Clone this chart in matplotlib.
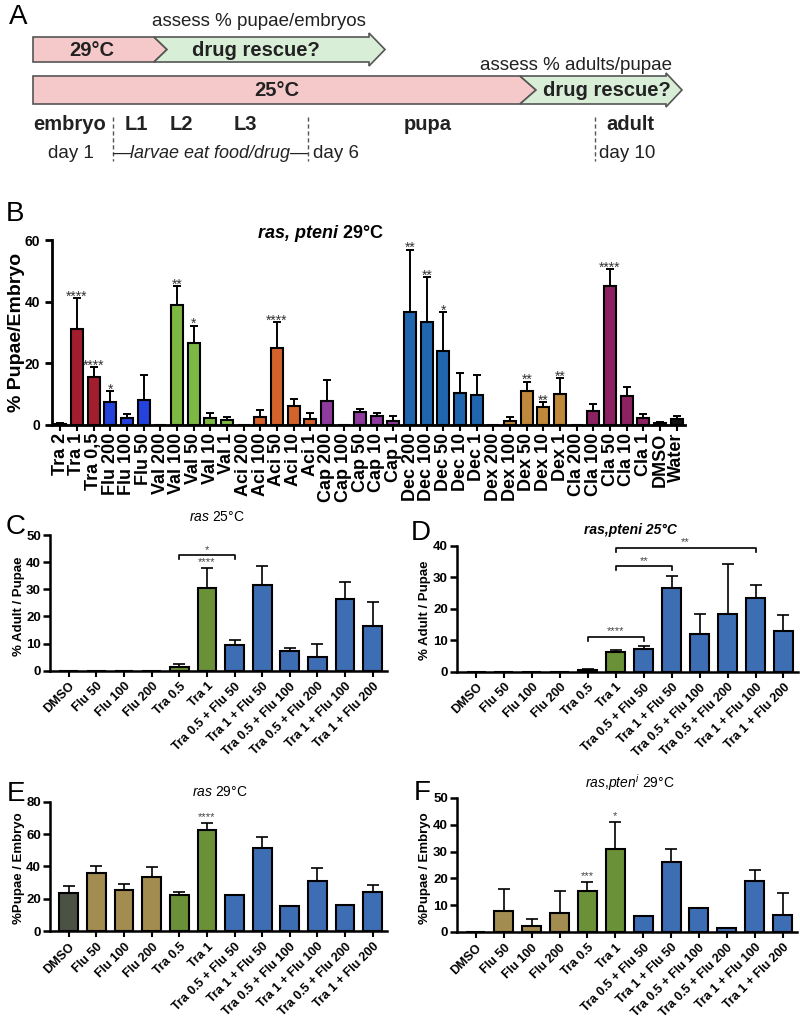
import numpy as np
import matplotlib.pyplot as plt
from matplotlib.patches import Polygon

# fuentes
plt.rcParams['font.family'] = ['Liberation Sans', 'DejaVu Sans']
plt.rcParams['mathtext.fontset'] = 'custom'
plt.rcParams['mathtext.rm'] = 'Liberation Sans'
plt.rcParams['mathtext.it'] = 'Liberation Sans:italic'
plt.rcParams['mathtext.bf'] = 'Liberation Sans:bold'
plt.rcParams['mathtext.bfit'] = 'Liberation Sans:italic:bold'

# ---------------- datos panel B ----------------
b_labels = ['Tra 2', 'Tra 1', 'Tra 0,5', 'Flu 200', 'Flu 100', 'Flu 50',
            'Val 200', 'Val 100', 'Val 50', 'Val 10', 'Val 1',
            'Aci 200', 'Aci 100', 'Aci 50', 'Aci 10', 'Aci 1',
            'Cap 200', 'Cap 100', 'Cap 50', 'Cap 10', 'Cap 1',
            'Dec 200', 'Dec 100', 'Dec 50', 'Dec 10', 'Dec 1',
            'Dex 200', 'Dex 100', 'Dex 50', 'Dex 10', 'Dex 1',
            'Cla 200', 'Cla 100', 'Cla 50', 'Cla 10', 'Cla 1',
            'DMSO', 'Water']
b_means = [0.3, 31.0, 15.6, 7.3, 2.1, 8.0,
           0, 38.9, 26.6, 2.1, 1.5,
           0, 2.6, 25.0, 6.0, 1.8,
           7.6, 0, 4.2, 2.9, 1.3,
           36.7, 33.4, 23.9, 10.3, 9.8,
           0, 1.2, 10.9, 5.7, 10.0,
           0, 4.3, 45.1, 9.3, 2.1,
           0.5, 1.9]
b_tops = [0.6, 41.2, 18.6, 11.0, 3.5, 16.2,
          None, 45.0, 32.2, 3.7, 2.6,
          None, 4.8, 33.3, 8.5, 3.7,
          14.5, None, 5.2, 3.8, 2.9,
          56.9, 48.0, 36.5, 16.9, 16.2,
          None, 2.6, 14.0, 7.3, 15.1,
          None, 6.8, 50.6, 12.4, 3.5,
          0.8, 2.8]
b_stars = {'Tra 1': '****', 'Tra 0,5': '****', 'Flu 200': '*', 'Val 100': '**',
           'Val 50': '*', 'Aci 50': '****', 'Dec 200': '**', 'Dec 100': '**',
           'Dec 50': '*', 'Dex 50': '**', 'Dex 10': '**', 'Dex 1': '**',
           'Cla 50': '****'}
b_colors = {'Tra': '#A21D2E', 'Flu': '#2342DE', 'Val': '#7DB843', 'Aci': '#D4622B',
            'Cap': '#8F3A9E', 'Dec': '#1F66AE', 'Dex': '#C0883A', 'Cla': '#8C2262',
            'DMSO': '#111111', 'Water': '#111111'}

# ---------------- datos paneles C-F ----------------
cdf_labels = ['DMSO', 'Flu 50', 'Flu 100', 'Flu 200', 'Tra 0.5', 'Tra 1',
              'Tra 0.5 + Flu 50', 'Tra 1 + Flu 50', 'Tra 0.5 + Flu 100',
              'Tra 0.5 + Flu 200', 'Tra 1 + Flu 100', 'Tra 1 + Flu 200']
e_labels = ['DMSO', 'Flu 50', 'Flu 100', 'Flu 200', 'Tra 0.5', 'Tra 1',
            'Tra 0.5 + Flu 50', 'Tra 1 + Flu 50', 'Tra 0.5 + Flu 100',
            'Tra 1 + Flu 100', 'Tra 0.5 + Flu 200', 'Tra 1 + Flu 200']

c_means = [0, 0, 0, 0, 1.2, 30.5, 9.3, 31.5, 7.2, 5.0, 26.5, 16.5]
c_tops = [None, None, None, None, 2.5, 38.0, 11.2, 38.5, 8.5, 10.0, 32.5, 25.3]

d_means = [0, 0, 0, 0, 0.4, 6.2, 7.2, 26.5, 12.0, 18.5, 23.5, 12.8]
d_tops = [None, None, None, None, 0.8, 7.0, 8.3, 30.5, 18.3, 34.3, 27.5, 18.2]

e_means = [23.7, 36.0, 25.4, 33.6, 22.3, 62.5, 22.3, 51.2, 15.7, 31.0, 16.1, 24.3]
e_tops = [28.0, 40.2, 28.9, 39.8, 24.0, 66.7, None, 58.4, None, 39.2, None, 28.5]

f_means = [0, 8.0, 2.2, 7.2, 15.3, 31.0, 6.0, 26.0, 9.0, 1.5, 19.0, 6.4]
f_tops = [None, 16.0, 4.7, 15.2, 18.6, 41.0, None, 30.8, None, None, 23.0, 14.5]

c_stars = {'Tra 1': '****'}
e_stars = {'Tra 1': '****'}
f_stars = {'Tra 0.5': '***', 'Tra 1': '*'}
# corchetes: (desde, hasta, altura, texto)
c_brackets = [('Tra 0.5', 'Tra 0.5 + Flu 50', 42.5, '*')]
d_brackets = [('Tra 0.5', 'Tra 0.5 + Flu 50', 11.0, '****'),
              ('Tra 1', 'Tra 1 + Flu 50', 33.5, '**'),
              ('Tra 1', 'Tra 1 + Flu 100', 39.3, '**')]


def color_cdf(lab):
    if lab == 'DMSO':
        return '#4B5143'
    if '+' in lab:
        return '#3D6DB3'
    if lab.startswith('Flu'):
        return '#A38C50'
    return '#6A9038'


fig = plt.figure(figsize=(8, 10.22), dpi=100)
bg = fig.add_axes([0, 0, 1, 1])
bg.set_xlim(0, 800)
bg.set_ylim(1022, 0)
bg.axis('off')


def px_axes(left, top, right, bottom):
    return fig.add_axes([left / 800, 1 - bottom / 1022,
                         (right - left) / 800, (bottom - top) / 1022])


# ---------------- panel A (esquema) ----------------
pink, green, edge = '#F5C9C9', '#D9EED6', '#555555'
bg.add_patch(Polygon([(33, 37), (154, 37), (167, 49.5), (154, 62), (33, 62)],
                     fc=pink, ec=edge, lw=1.2))
bg.add_patch(Polygon([(154, 37), (369, 37), (369, 33), (385, 49.5), (369, 66),
                      (369, 62), (154, 62), (167, 49.5)], fc=green, ec=edge, lw=1.2))
bg.add_patch(Polygon([(33, 76), (520, 76), (536, 90), (520, 104), (33, 104)],
                     fc=pink, ec=edge, lw=1.2))
bg.add_patch(Polygon([(520, 76), (666, 76), (666, 73), (682, 90), (666, 107),
                      (666, 104), (520, 104), (536, 90)], fc=green, ec=edge, lw=1.2))

bg.text(18, 17, 'A', fontsize=20, ha='center', va='center')
bg.text(259, 22, 'assess % pupae/embryos', fontsize=13.5, ha='center', va='center', color='#222')
bg.text(92, 50, '29°C', fontsize=14.5, fontweight='bold', ha='center', va='center', color='#222')
bg.text(256, 50, 'drug rescue?', fontsize=14.5, fontweight='bold', ha='center', va='center', color='#222')
bg.text(576, 66, 'assess % adults/pupae', fontsize=13.5, ha='center', va='center', color='#222')
bg.text(277, 90, '25°C', fontsize=14.5, fontweight='bold', ha='center', va='center', color='#222')
bg.text(607, 90, 'drug rescue?', fontsize=14.5, fontweight='bold', ha='center', va='center', color='#222')

for x in [113, 308, 595]:
    bg.plot([x, x], [117, 161], ls=(0, (3, 2)), color='#555', lw=1)
for txt, x in [('embryo', 70), ('L1', 136), ('L2', 181), ('L3', 245),
               ('pupa', 428), ('adult', 630)]:
    bg.text(x, 125, txt, fontsize=14.5, fontweight='bold', ha='center', va='center', color='#222')
bg.text(71, 154, 'day 1', fontsize=13.5, ha='center', va='center', color='#222')
bg.text(210, 154, '—larvae eat food/drug—', fontsize=13, style='italic',
        ha='center', va='center', color='#222')
bg.text(336, 154, 'day 6', fontsize=13.5, ha='center', va='center', color='#222')
bg.text(627, 154, 'day 10', fontsize=13.5, ha='center', va='center', color='#222')


def style_axes(ax, spine_w=1.8):
    for s in ['top', 'right']:
        ax.spines[s].set_visible(False)
    for s in ['left', 'bottom']:
        ax.spines[s].set_linewidth(spine_w)
    ax.set_facecolor('none')


def draw_bars(ax, labels, means, tops, colors, width, elw, cap):
    x = np.arange(len(labels))
    means = np.array(means, dtype=float)
    tops = np.array([np.nan if t is None else t for t in tops], dtype=float)
    ax.bar(x, means, width=width, color=colors, edgecolor='black', linewidth=1.5, zorder=2)
    has = ~np.isnan(tops)
    ax.errorbar(x[has], means[has], yerr=[np.zeros(has.sum()), tops[has] - means[has]],
                fmt='none', ecolor='black', elinewidth=elw, capsize=cap, capthick=elw, zorder=1)
    return x, tops


# ---------------- panel B ----------------
axb = px_axes(52, 240, 685, 424.7)
style_axes(axb, 2)
cols = [b_colors[l.split()[0]] for l in b_labels]
xb, tb = draw_bars(axb, b_labels, b_means, b_tops, cols, 0.72, 1.4, 3)
for lab, st in b_stars.items():
    i = b_labels.index(lab)
    axb.text(i, tb[i] - 1.8, st, fontsize=10, ha='center', va='bottom', color='#333')
axb.set_xlim(-0.5, 37.5)
axb.set_ylim(0, 60)
axb.set_yticks([0, 20, 40, 60])
axb.set_xticks(xb)
axb.set_xticklabels(b_labels, rotation=90, fontsize=13, fontweight='bold')
axb.tick_params(axis='x', length=4, width=1.5, pad=2)
axb.tick_params(axis='y', length=5, width=2, labelsize=10)
for t in axb.get_yticklabels():
    t.set_fontweight('bold')
bg.text(15, 214, 'B', fontsize=20, ha='center', va='center')
bg.text(320, 234, r'$\mathbfit{ras{,}\ pteni}$ 29°C', fontsize=13, fontweight='bold',
        ha='center', va='center')
bg.text(17, 332, '% Pupae/Embryo', fontsize=14, fontweight='bold', rotation=90,
        ha='center', va='center')


# ---------------- paneles C-F ----------------
def small_panel(box, labels, means, tops, ymax, ystep, stars, brackets):
    ax = px_axes(*box)
    style_axes(ax, 1.8)
    cols = [color_cdf(l) for l in labels]
    x, t = draw_bars(ax, labels, means, tops, cols, 0.68, 1.2, 4.5)
    for lab, st in stars.items():
        i = labels.index(lab)
        ax.text(i, t[i] + ymax * 0.005, st, fontsize=8, ha='center', va='bottom', color='#444')
    for a, b, h, st in brackets:
        i, j = labels.index(a), labels.index(b)
        d = ymax * 0.03
        ax.plot([i, i, j, j], [h - d, h, h, h - d], color='black', lw=1.2, clip_on=False)
        ax.text((i + j) / 2, h + ymax * 0.005, st, fontsize=8, ha='center', va='bottom', color='#444')
    ax.set_xlim(-0.68, 11.52)
    ax.set_ylim(0, ymax)
    ax.set_yticks(np.arange(0, ymax + 1, ystep))
    ax.set_xticks(x)
    ax.set_xticklabels(labels, rotation=45, ha='right', va='top', rotation_mode='anchor',
                       fontsize=9, fontweight='bold')
    ax.tick_params(axis='x', length=4, width=1.5, pad=3)
    ax.tick_params(axis='y', length=5, width=1.8, labelsize=9.5, pad=1.5)
    for tl in ax.get_yticklabels():
        tl.set_fontweight('bold')
    return ax


small_panel((50, 535, 387, 670.7), cdf_labels, c_means, c_tops, 50, 10, c_stars, c_brackets)
bg.text(16, 527, 'C', fontsize=20, ha='center', va='center')
bg.text(217, 517, r'$\it{ras}$ 25°C', fontsize=10, ha='center', va='center')
bg.text(19, 606, '% Adult / Pupae', fontsize=9.5, fontweight='bold', rotation=90,
        ha='center', va='center')

small_panel((457, 546, 798, 671.7), cdf_labels, d_means, d_tops, 40, 10, {}, d_brackets)
bg.text(421, 533, 'D', fontsize=20, ha='center', va='center')
bg.text(630, 530, 'ras,pteni 25°C', fontsize=10, fontweight='bold', style='italic',
        ha='center', va='center')
bg.text(425, 610, '% Adult / Pupae', fontsize=9.5, fontweight='bold', rotation=90,
        ha='center', va='center')

small_panel((50, 801.7, 387, 931), e_labels, e_means, e_tops, 80, 20, e_stars, [])
bg.text(16, 794, 'E', fontsize=20, ha='center', va='center')
bg.text(220, 792, r'$\it{ras}$ 29°C', fontsize=10, ha='center', va='center')
bg.text(19, 868, '%Pupae / Embryo', fontsize=9.5, fontweight='bold', rotation=90,
        ha='center', va='center')

small_panel((457, 798, 797, 932), cdf_labels, f_means, f_tops, 50, 10, f_stars, [])
bg.text(422, 793, 'F', fontsize=20, ha='center', va='center')
bg.text(630, 783, r'$\it{ras{,}pten}^{i}$ 29°C', fontsize=10, ha='center', va='center')
bg.text(425, 868, '%Pupae / Embryo', fontsize=9.5, fontweight='bold', rotation=90,
        ha='center', va='center')

fig.savefig('out.png', dpi=100)
